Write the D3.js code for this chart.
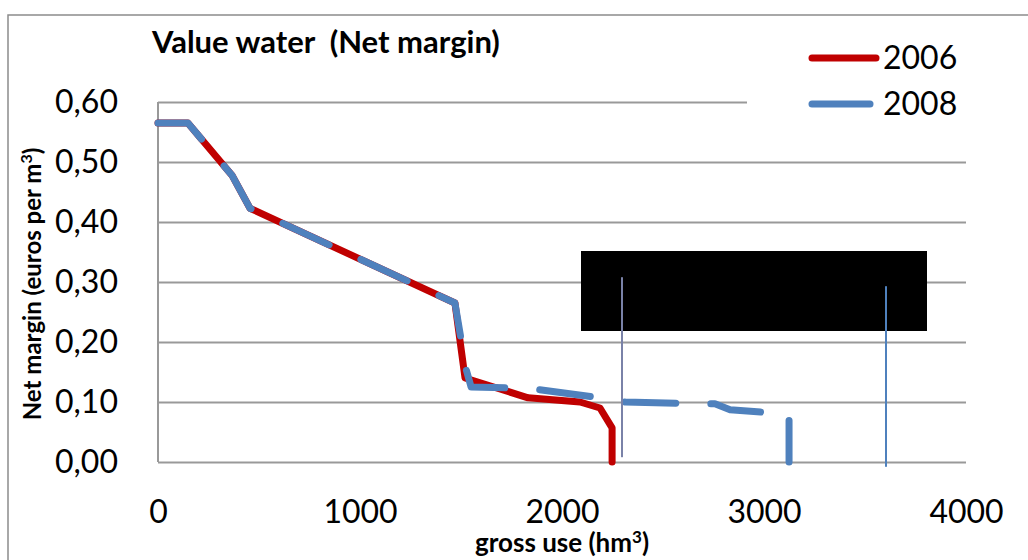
<!DOCTYPE html>
<html>
<head>
<meta charset="utf-8">
<script src="https://cdnjs.cloudflare.com/ajax/libs/d3/7.8.5/d3.min.js"></script>
<style>
body { margin: 0; background: #fff; }
text { font-family: Lato, "Open Sans", sans-serif; fill: #000; white-space: pre; }
</style>
</head>
<body>
<script>
// values
var years = ["2006", "2008"];
var use2006 = [0, 148, 366, 455, 1470, 1520, 1832, 2089, 2188, 2248, 2248];
var margin2006 = [0.565, 0.565, 0.478, 0.423, 0.265, 0.140, 0.107, 0.100, 0.090, 0.057, 0];
var use2008 = [0, 148, 366, 455, 1470, 1525, 1550, 1842, 2188, 2312, 2683, 2757, 2832, 3030, 3124, 3124];
var margin2008 = [0.565, 0.565, 0.478, 0.423, 0.265, 0.155, 0.125, 0.1225, 0.107, 0.100, 0.097, 0.097, 0.087, 0.082, 0.080, 0];
// two thin vertical marker lines
var markerUse = [2297, 3604];
var markerTop = [0.308, 0.293];
var markerBottom = [0.008, -0.008];
var xTicks = [0, 1000, 2000, 3000, 4000];
var yTicks = [0, 0.1, 0.2, 0.3, 0.4, 0.5, 0.6];

var W = 1028, H = 560;
var plotLeft = 158, plotRight = 966, plotTop = 102, plotBottom = 462;

var svg = d3.select("body").append("svg")
  .attr("width", W)
  .attr("height", H);

// outer chart border
svg.append("rect")
  .attr("x", 8).attr("y", 15)
  .attr("width", W + 20).attr("height", H + 20)
  .attr("fill", "#fff")
  .attr("stroke", "#8c8c8c")
  .attr("stroke-width", 1.5);

var x = d3.scaleLinear().domain([0, 4000]).range([plotLeft, plotRight]);
var y = d3.scaleLinear().domain([0, 0.6]).range([plotBottom, plotTop]);

// y axis with gridlines
var yAxis = svg.append("g")
  .attr("transform", "translate(" + plotLeft + ",0)")
  .call(d3.axisLeft(y).tickValues(yTicks).tickSize(-(plotRight - plotLeft)).tickPadding(40)
    .tickFormat(function(d) { return d.toFixed(2).replace(".", ","); }));
yAxis.select(".domain").remove();
yAxis.selectAll("line").attr("stroke", "#999").attr("stroke-width", 2);
yAxis.selectAll("text").attr("font-size", 32).attr("font-family", "Lato");

// x axis labels
var xAxis = svg.append("g")
  .attr("transform", "translate(0," + plotBottom + ")")
  .call(d3.axisBottom(x).tickValues(xTicks).tickSize(0).tickPadding(38).tickFormat(d3.format("d")));
xAxis.select(".domain").remove();
xAxis.selectAll("text").attr("font-size", 32).attr("font-family", "Lato");

// left plot edge
svg.append("line")
  .attr("x1", plotLeft).attr("x2", plotLeft)
  .attr("y1", plotTop).attr("y2", plotBottom)
  .attr("stroke", "#999").attr("stroke-width", 2);

// legend box hides the top gridline
svg.append("rect")
  .attr("x", 747).attr("y", 30)
  .attr("width", 260).attr("height", 115)
  .attr("fill", "#fff");

var line = d3.line()
  .x(function(d) { return x(d[0]); })
  .y(function(d) { return y(d[1]); });

var data2006 = use2006.map(function(u, i) { return [u, margin2006[i]]; });
var data2008 = use2008.map(function(u, i) { return [u, margin2008[i]]; });

svg.append("path")
  .datum(data2006)
  .attr("d", line)
  .attr("fill", "none")
  .attr("stroke", "#C00000")
  .attr("stroke-width", 7)
  .attr("stroke-linejoin", "round")
  .attr("stroke-linecap", "round");

svg.append("path")
  .datum(data2008)
  .attr("d", line)
  .attr("fill", "none")
  .attr("stroke", "#4F81BD")
  .attr("stroke-width", 7)
  .attr("stroke-linejoin", "round")
  .attr("stroke-linecap", "round")
  .attr("stroke-dasharray", "51 35");

// black box
svg.append("rect")
  .attr("x", 581).attr("y", 251)
  .attr("width", 346).attr("height", 80)
  .attr("fill", "#000");

// vertical markers
svg.selectAll(".marker")
  .data(markerUse)
  .enter()
  .append("line")
  .attr("class", "marker")
  .attr("x1", function(d) { return x(d); })
  .attr("x2", function(d) { return x(d); })
  .attr("y1", function(d, i) { return y(markerTop[i]); })
  .attr("y2", function(d, i) { return y(markerBottom[i]); })
  .attr("stroke", function(d, i) { return i == 0 ? "#7A82A8" : "#4F81BD"; })
  .attr("stroke-width", 2);

// legend
var legColors = ["#C00000", "#4F81BD"];
var leg = svg.selectAll(".leg")
  .data(years)
  .enter()
  .append("g")
  .attr("class", "leg")
  .attr("transform", function(d, i) { return "translate(0," + (58 + i * 46) + ")"; });
leg.append("line")
  .attr("x1", 812).attr("x2", function(d, i) { return i == 0 ? 876 : 870; })
  .attr("stroke", function(d, i) { return legColors[i]; })
  .attr("stroke-width", 7)
  .attr("stroke-linecap", "round");
leg.append("text")
  .attr("x", 883).attr("y", 11)
  .attr("font-size", 32)
  .text(function(d) { return d; });

// title
svg.append("text")
  .attr("x", 152).attr("y", 53)
  .attr("font-size", 31)
  .attr("font-weight", "bold")
  .attr("xml:space", "preserve")
  .text("Value water  (Net margin)");

// axis titles
svg.append("text")
  .attr("x", 562).attr("y", 552)
  .attr("text-anchor", "middle")
  .attr("font-size", 26)
  .attr("font-weight", "bold")
  .html("gross use (hm<tspan dy='-9' font-size='17'>3</tspan><tspan dy='9'>)</tspan>");

svg.append("text")
  .attr("transform", "translate(41,284) rotate(-90)")
  .attr("text-anchor", "middle")
  .attr("font-size", 24)
  .attr("font-weight", "bold")
  .html("Net margin (euros per m<tspan dy='-9' font-size='16'>3</tspan><tspan dy='9'>)</tspan>");
</script>
</body>
</html>
